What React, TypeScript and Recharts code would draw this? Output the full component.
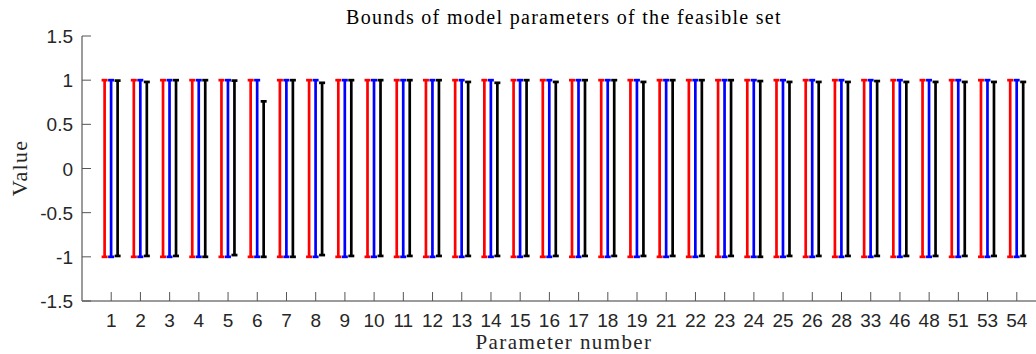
import React from 'react';
import { ComposedChart, Bar, XAxis, YAxis } from 'recharts';

// Parameter numbers shown along the x axis
const parameterLabels = [
  '1', '2', '3', '4', '5', '6', '7', '8', '9', '10', '11', '12', '13', '14', '15', '16',
  '17', '18', '19', '21', '22', '23', '24', '25', '26', '28', '33', '46', '48', '51', '53', '54',
];

// Lower / upper bounds for each of the three bound sets
const redLower = Array(32).fill(-1) as number[];
const redUpper = Array(32).fill(1) as number[];
const blueLower = Array(32).fill(-1) as number[];
const blueUpper = Array(32).fill(1) as number[];
const blackLower = [
  -0.99, -0.99, -0.99, -1.0, -0.98, -1.0, -1.0, -0.98, -0.99, -0.99, -0.99, -0.99, -0.99, -0.99, -0.99, -0.99,
  -0.99, -0.99, -0.99, -0.99, -0.99, -0.99, -1.0, -0.99, -0.99, -0.99, -0.99, -0.99, -0.99, -0.99, -0.99, -0.99,
];
const blackUpper = [
  0.995, 0.98, 1.0, 1.0, 0.995, 0.76, 1.0, 0.97, 1.0, 1.0, 1.0, 1.0, 0.98, 0.97, 1.0, 0.98,
  1.0, 1.0, 0.98, 1.0, 1.0, 1.0, 0.99, 0.98, 0.98, 0.98, 0.99, 0.98, 0.98, 0.98, 0.98, 0.98,
];

const yTicks = [-1.5, -1, -0.5, 0, 0.5, 1, 1.5];

const rows = parameterLabels.map((label, i) => ({
  pos: i + 1,
  label,
  red: [redLower[i], redUpper[i]],
  blue: [blueLower[i], blueUpper[i]],
  black: [blackLower[i], blackUpper[i]],
}));

const positions = rows.map((r) => r.pos);

// Vertical interval with horizontal caps at both ends
const Bracket = (props: any) => {
  const { x, y, width, height, fill } = props;
  if (x == null || y == null) return null;
  const cx = x + width / 2;
  const top = Math.min(y, y + height);
  const bot = Math.max(y, y + height);
  const half = 3;
  return (
    <g stroke={fill} strokeWidth={2.7} fill="none">
      <line x1={cx} x2={cx} y1={top} y2={bot} />
      <line x1={cx - half} x2={cx + half} y1={top} y2={top} />
      <line x1={cx - half} x2={cx + half} y1={bot} y2={bot} />
    </g>
  );
};

const SANS = '"Liberation Sans", Arial, sans-serif';
const serif = '"Liberation Serif", "Times New Roman", serif';

const XTick = (props: any) => {
  const { x, y, payload } = props;
  return (
    <text x={x} y={y} dy={13} textAnchor="middle" fontFamily={SANS} fontSize={19} fill="#262626">
      {parameterLabels[payload.value - 1]}
    </text>
  );
};

const YTick = (props: any) => {
  const { x, y, payload } = props;
  return (
    <text x={x} y={y} dy={7} textAnchor="end" fontFamily={SANS} fontSize={19} fill="#262626">
      {String(payload.value)}
    </text>
  );
};

export default function App() {
  return (
    <div
      style={{
        position: 'absolute',
        left: 0,
        top: 0,
        width: 1036,
        height: 354,
        overflow: 'hidden',
        background: '#fff',
      }}
    >
      <ComposedChart
        width={1060}
        height={354}
        data={rows}
        margin={{ top: 36, right: 14, bottom: 0, left: 0 }}
        barSize={6}
        barGap={0.5}
      >
        <XAxis
          xAxisId="top"
          orientation="top"
          dataKey="pos"
          type="number"
          domain={[0, 33]}
          ticks={positions}
          height={0}
          tick={false}
          tickSize={-9}
          tickLine={{ stroke: '#555' }}
          axisLine={{ stroke: '#3a3a3a', strokeWidth: 1 }}
        />
        <XAxis
          dataKey="pos"
          type="number"
          domain={[0, 33]}
          ticks={positions}
          interval={0}
          height={53}
          tickSize={-9}
          tickMargin={22}
          tick={<XTick />}
          tickLine={{ stroke: '#555' }}
          axisLine={{ stroke: '#7a7a7a', strokeWidth: 1.5 }}
        />
        <YAxis
          type="number"
          domain={[-1.5, 1.5]}
          ticks={yTicks}
          interval={0}
          width={82}
          tickSize={-9}
          tickMargin={18}
          tick={<YTick />}
          tickLine={{ stroke: '#555' }}
          axisLine={{ stroke: '#7a7a7a', strokeWidth: 1.5 }}
        />
        <Bar dataKey="red" fill="#ff0000" shape={<Bracket />} isAnimationActive={false} />
        <Bar dataKey="blue" fill="#0000ff" shape={<Bracket />} isAnimationActive={false} />
        <Bar dataKey="black" fill="#000000" shape={<Bracket />} isAnimationActive={false} />
      </ComposedChart>

      <div
        style={{
          position: 'absolute',
          left: 82,
          width: 964,
          top: 6,
          textAlign: 'center',
          fontFamily: serif,
          fontSize: 20,
          letterSpacing: 1.3,
          color: '#000',
          whiteSpace: 'nowrap',
          lineHeight: '22px',
        }}
      >
        Bounds of model parameters of the feasible set
      </div>
      <div
        style={{
          position: 'absolute',
          left: 82,
          width: 964,
          top: 332,
          textAlign: 'center',
          fontFamily: serif,
          fontSize: 21,
          letterSpacing: 1.4,
          color: '#262626',
          whiteSpace: 'nowrap',
          lineHeight: '20px',
        }}
      >
        Parameter number
      </div>
      <div
        style={{
          position: 'absolute',
          left: 20,
          top: 168,
          transform: 'translate(-50%, -50%) rotate(-90deg)',
          fontFamily: serif,
          fontSize: 22,
          letterSpacing: 1.3,
          color: '#262626',
          whiteSpace: 'nowrap',
          lineHeight: '24px',
        }}
      >
        Value
      </div>
    </div>
  );
}
